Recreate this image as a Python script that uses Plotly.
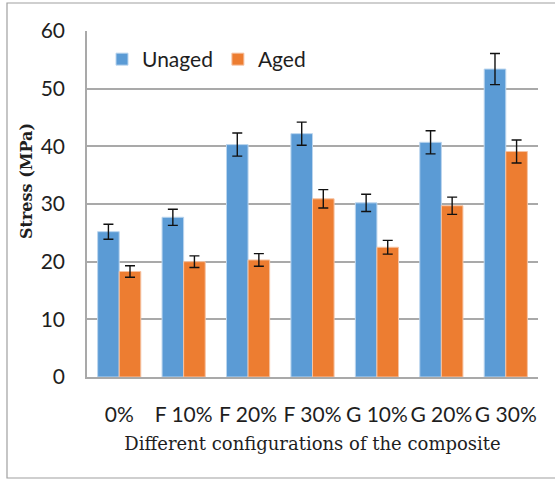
import plotly.graph_objects as go

# Tensile stress of the composite configurations, before and after ageing
configs = ["0%", "F 10%", "F 20%", "F 30%", "G 10%", "G 20%", "G 30%"]
unaged = [25.2, 27.7, 40.3, 42.2, 30.2, 40.7, 53.4]
unaged_err = [1.3, 1.4, 2.0, 2.0, 1.5, 2.0, 2.7]
aged = [18.3, 20.0, 20.3, 30.9, 22.5, 29.7, 39.1]
aged_err = [1.0, 1.0, 1.1, 1.6, 1.2, 1.5, 2.0]

BLUE = "#5B9BD5"
ORANGE = "#ED7D31"
GRID = "#A9A9A9"
TEXT = "#1E1E1E"
SANS = "Lato, 'Open Sans', sans-serif"
SERIF = "'DejaVu Serif', serif"

err_style = dict(type="data", color="#111111", thickness=1.4, width=5)

fig = go.Figure()
fig.add_trace(go.Bar(
    name="Unaged", x=configs, y=unaged,
    marker=dict(color=BLUE, line=dict(color="#BBD5EE", width=1)),
    error_y=dict(array=unaged_err, **err_style),
))
fig.add_trace(go.Bar(
    name="Aged", x=configs, y=aged,
    marker=dict(color=ORANGE, line=dict(color="#F6C3A3", width=1)),
    error_y=dict(array=aged_err, **err_style),
))

L, R, T, B = 87, 17, 31, 102
W, H = 555, 479
pw, ph = W - L - R, H - T - B

def px_x(p):
    return (p - L) / pw

def px_y(p):
    return (H - B - p) / ph

fig.update_layout(
    width=W, height=H,
    margin=dict(l=L, r=R, t=T, b=B),
    paper_bgcolor="white", plot_bgcolor="white",
    barmode="group", bargap=0.33, bargroupgap=0,
    font=dict(family=SANS, size=21, color=TEXT),
    legend=dict(
        orientation="h", x=px_x(102), y=px_y(39), xanchor="left", yanchor="top",
        font=dict(family=SANS, size=21, color=TEXT),
        bgcolor="rgba(0,0,0,0)", itemwidth=30, traceorder="normal",
    ),
    showlegend=True,
    shapes=[dict(
        type="rect", xref="paper", yref="paper",
        x0=px_x(7), x1=px_x(565), y0=px_y(478), y1=px_y(3),
        line=dict(color="#A0A0A0", width=1.2), fillcolor="rgba(0,0,0,0)",
        layer="below",
    )],
    annotations=[dict(
        text="<b>Stress (MPa)</b>", textangle=-90, showarrow=False,
        xref="paper", yref="paper", x=px_x(27), y=px_y(181),
        xanchor="center", yanchor="middle",
        font=dict(family=SERIF, size=16, color=TEXT),
    )],
)

fig.update_xaxes(
    showline=True, linecolor=GRID, linewidth=1.5,
    showgrid=False, ticks="", ticklabelstandoff=18,
    tickfont=dict(family=SANS, size=21, color=TEXT),
    title=dict(text="Different configurations of the composite",
               font=dict(family=SERIF, size=18, color=TEXT), standoff=12),
)
fig.update_yaxes(
    range=[0, 60], dtick=10,
    showline=True, linecolor=GRID, linewidth=1.5,
    showgrid=True, gridcolor=GRID, gridwidth=1.5,
    zeroline=False, ticks="", ticklabelstandoff=16,
    tickfont=dict(family=SANS, size=21, color=TEXT),
)

fig.write_html("out.html")
